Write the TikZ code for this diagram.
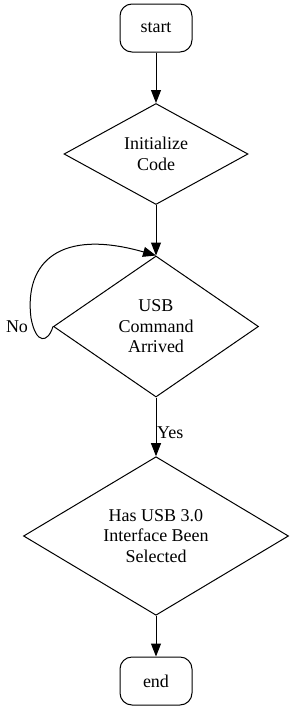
\documentclass[tikz,border=0pt]{standalone}
\usepackage{fontspec}
\setmainfont{Liberation Serif}
\usetikzlibrary{arrows.meta, shapes.geometric}

\begin{document}
\begin{tikzpicture}[
    x=1pt, y=-1pt,
    font=\fontsize{18}{20.5}\selectfont,
    term/.style={draw, rounded corners=12pt, minimum width=72pt, minimum height=48pt,
                 inner sep=0pt, line width=1pt},
    dec/.style={draw, diamond, align=center, inner sep=0pt, line width=1pt},
    a/.style={-{Triangle[length=13pt, width=10pt]}, line width=1pt},
  ]
    \useasboundingbox (0,0) rectangle (295,712);
    \node[term] (start) at (156,28) {start};
    \node[dec, minimum width=184pt, minimum height=101pt] (init) at (156,154) {Initialize\\Code};
    \node[dec, minimum width=205pt, minimum height=141pt] (usb) at (156,326.5) {USB\\Command\\Arrived};
    \node[dec, minimum width=265pt, minimum height=142pt] (has) at (156,536) {Has USB 3.0\\Interface Been\\Selected};
    \node[term] (end) at (156,681) {end};
    \draw[a] (start) -- (init);
    \draw[a] (init) -- (usb);
    \draw[a] (usb) -- (has);
    \draw[a] (has) -- (end);
    \node[anchor=west, inner sep=0pt] (yes) at (157,433) {Yes};
    % loop back when nothing arrived
    \draw[a] (usb.west) .. controls (48,343) and (36,345) .. (31,318)
      .. controls (24,262) and (60,228) .. (usb.north);
    \node (no) at (17,327) {No};
  \end{tikzpicture}
\end{document}
